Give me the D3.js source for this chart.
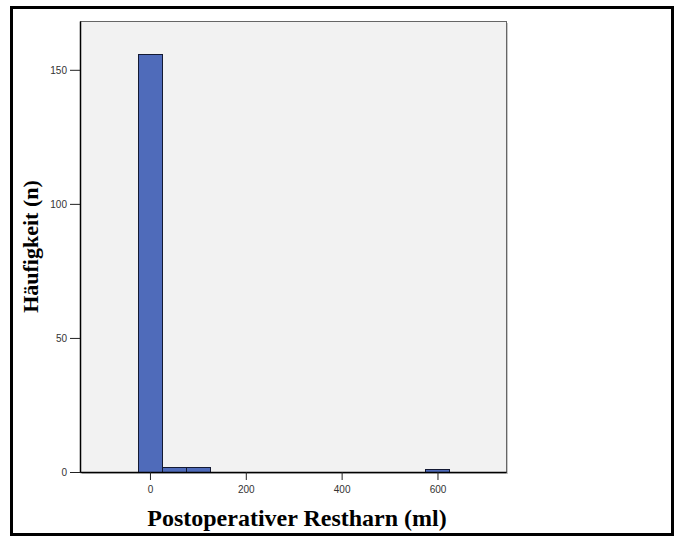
<!DOCTYPE html>
<html>
<head>
<meta charset="utf-8">
<script src="https://cdn.jsdelivr.net/npm/d3@7"></script>
<style>
  body { margin: 0; background: #fff; }
</style>
</head>
<body>
<div id="chart"></div>
<script>
// Histogram bins (centre in ml) and frequencies
const binCenters = [0, 50, 100, 600];
const counts = [156, 2, 2, 1];
const binWidth = 50;
const xTicks = [0, 200, 400, 600];
const yTicks = [0, 50, 100, 150];

const width = 676;
const height = 538;

// Plot frame
const marginLeft = 80;
const marginRight = 170;
const marginTop = 21;
const marginBottom = 66;

const svg = d3
  .select("#chart")
  .append("svg")
  .attr("width", width)
  .attr("height", height);

// Outer border
svg
  .append("rect")
  .attr("x", 11.5)
  .attr("y", 7.5)
  .attr("width", 661)
  .attr("height", 527)
  .attr("fill", "none")
  .attr("stroke", "#000")
  .attr("stroke-width", 3);

const x = d3
  .scaleLinear()
  .domain([-146, 743])
  .range([marginLeft, width - marginRight]);

const y = d3
  .scaleLinear()
  .domain([0, 168.2])
  .range([height - marginBottom, marginTop]);

// Plot background with a light shadow
svg
  .append("rect")
  .attr("x", marginLeft + 2)
  .attr("y", marginTop + 2)
  .attr("width", width - marginLeft - marginRight)
  .attr("height", height - marginTop - marginBottom)
  .attr("fill", "#c8c8c8");

svg
  .append("rect")
  .attr("x", marginLeft + 0.5)
  .attr("y", marginTop + 0.5)
  .attr("width", width - marginLeft - marginRight)
  .attr("height", height - marginTop - marginBottom)
  .attr("fill", "#f2f2f2")
  .attr("stroke", "#666")
  .attr("stroke-width", 1);

// Bars
const data = binCenters.map((c, i) => ({ c, n: counts[i] }));

svg
  .append("g")
  .selectAll("rect")
  .data(data)
  .join("rect")
  .attr("x", (d) => Math.round(x(d.c - binWidth / 2)) + 0.5)
  .attr("y", (d) => Math.round(y(d.n)) + 0.5)
  .attr("width", (d) => Math.round(x(d.c + binWidth / 2)) - Math.round(x(d.c - binWidth / 2)))
  .attr("height", (d) => Math.round(y(0)) - Math.round(y(d.n)))
  .attr("fill", "#4f6bba")
  .attr("stroke", "#141a33")
  .attr("stroke-width", 1);

// x-axis
svg
  .append("g")
  .attr("transform", `translate(0,${height - marginBottom})`)
  .call(d3.axisBottom(x).tickValues(xTicks).tickSize(8).tickSizeOuter(0).tickPadding(6))
  .call((g) => g.select(".domain").attr("stroke", "#000").attr("stroke-width", 1.5))
  .call((g) => g.selectAll(".tick line").attr("stroke", "#222"))
  .call((g) =>
    g
      .selectAll(".tick text")
      .attr("font-family", "Arial, 'Liberation Sans', sans-serif")
      .attr("font-size", 10)
      .attr("fill", "#333"),
  );

// y-axis
svg
  .append("g")
  .attr("transform", `translate(${marginLeft},0)`)
  .call(d3.axisLeft(y).tickValues(yTicks).tickSize(10).tickSizeOuter(0).tickPadding(3))
  .call((g) => g.select(".domain").attr("stroke", "#000").attr("stroke-width", 1.5))
  .call((g) => g.selectAll(".tick line").attr("stroke", "#222"))
  .call((g) =>
    g
      .selectAll(".tick text")
      .attr("font-family", "Arial, 'Liberation Sans', sans-serif")
      .attr("font-size", 10)
      .attr("fill", "#333"),
  );

// Axis titles
svg
  .append("text")
  .attr("x", 297)
  .attr("y", 526)
  .attr("text-anchor", "middle")
  .attr("font-family", "'Liberation Serif', 'Times New Roman', serif")
  .attr("font-weight", "bold")
  .attr("font-size", 24)
  .text("Postoperativer Restharn (ml)");

svg
  .append("text")
  .attr("transform", `translate(38,${(marginTop + height - marginBottom) / 2}) rotate(-90)`)
  .attr("text-anchor", "middle")
  .attr("font-family", "'Liberation Serif', 'Times New Roman', serif")
  .attr("font-weight", "bold")
  .attr("font-size", 22)
  .text("Häufigkeit (n)");
</script>
</body>
</html>
